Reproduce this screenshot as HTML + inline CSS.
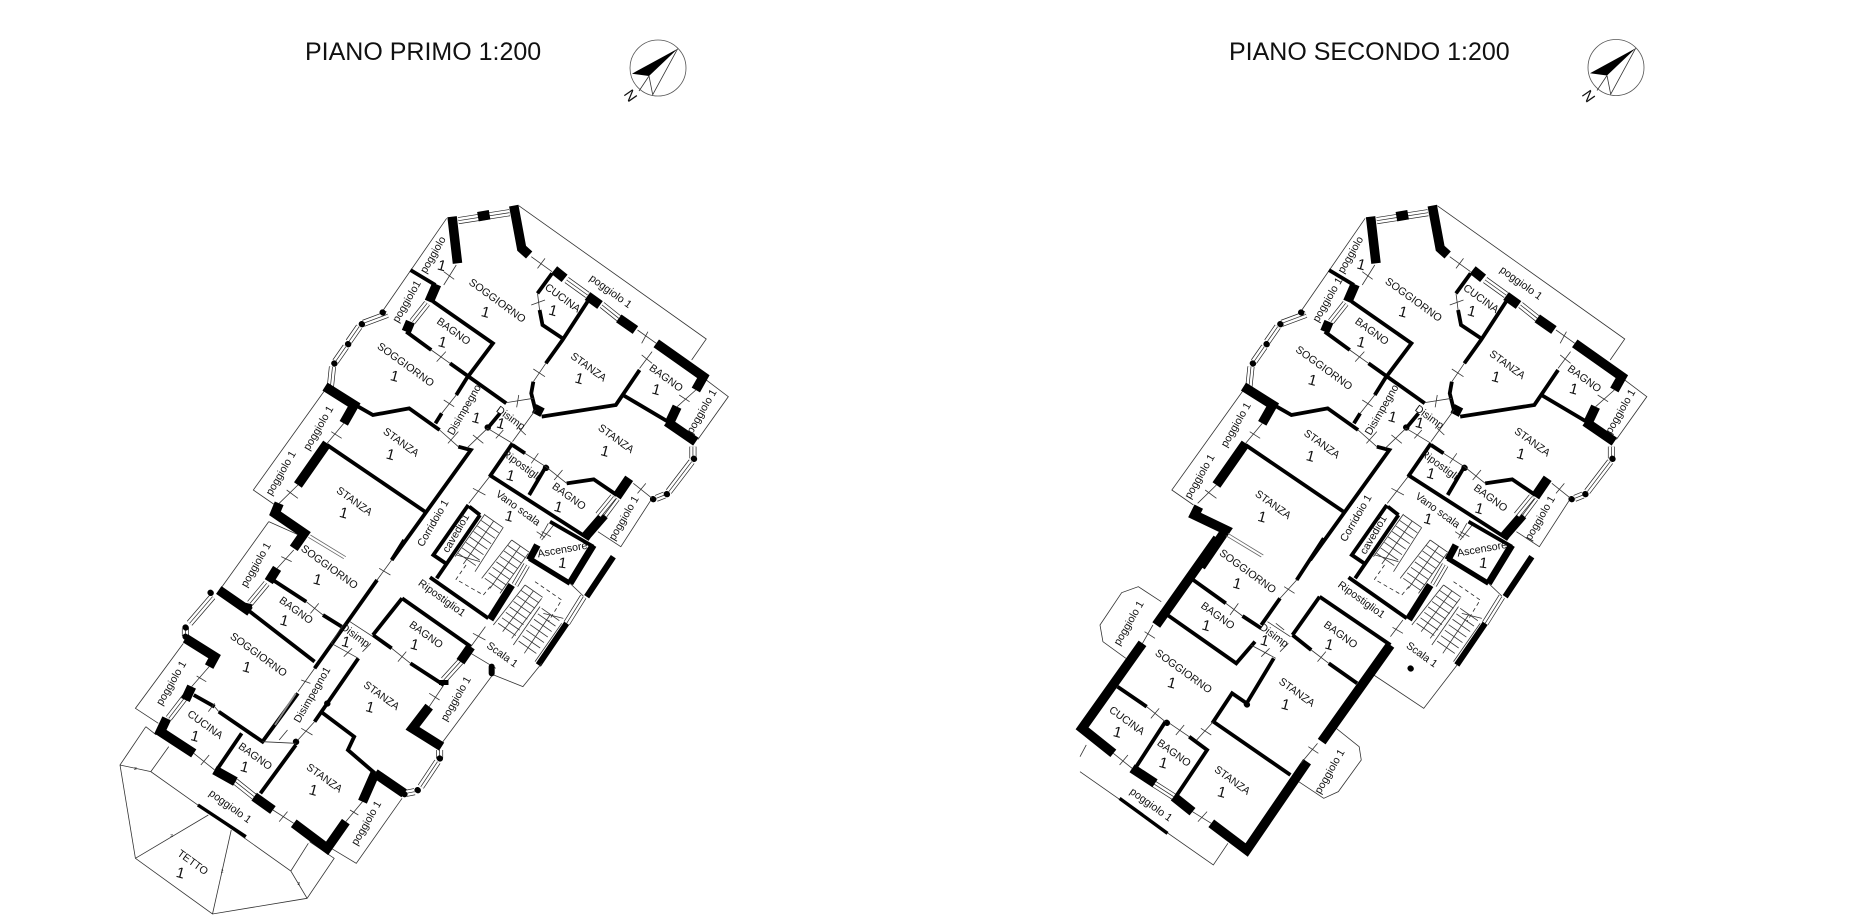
<!DOCTYPE html>
<html><head><meta charset="utf-8"><style>
html,body{margin:0;padding:0;background:#fff}
svg{display:block}
path{vector-effect:non-scaling-stroke;fill:none;stroke:#000;stroke-linejoin:miter}
.t{stroke:#333;stroke-width:.8}
.m{stroke-width:3.8}
.x{stroke-width:6}
.k{stroke-width:9.5}
.b{stroke-width:6;stroke-linecap:round}
.g{stroke:#666;stroke-width:.8}
.g2{stroke:#888;stroke-width:1.8}
.wi{stroke:inherit;stroke-width:inherit}
.wa{stroke-width:7;stroke:#222}
.wb{stroke-width:5.6;stroke:#fff}
.wc{stroke-width:.7;stroke:#222}
.st{stroke:#333;stroke-width:.8}
.d{stroke:#222;stroke-width:.8;stroke-dasharray:4 3}
text{font-family:"Liberation Sans",sans-serif;font-size:10.7px;text-anchor:middle;dominant-baseline:central;fill:#111}
.n{font-size:15px}
.h{font-size:25px;text-anchor:start;dominant-baseline:auto}
</style></head><body>
<svg width="1857" height="924" viewBox="0 0 1857 924" xmlns="http://www.w3.org/2000/svg">
<rect width="1857" height="924" fill="#fff"/>
<text class="h" x="305" y="60">PIANO PRIMO 1:200</text>
<text class="h" x="1229" y="60">PIANO SECONDO 1:200</text>
<defs>
<g id="comp">
<circle r="28" fill="none" stroke="#555" stroke-width=".8"/>
<polygon points="19.7,-19.3 -26,5.7 -9,8" fill="#000"/>
<path class="t" d="M19.7,-19.3L-5.3,26.7L-9,8L-5.3,26.7M-9,8L-19,23"/>
</g>
<path id="winTop" class="wi" d="M860,92L983,68M785,340L750,395M690,373L632,400M622,410L597,455M590,470L565,515M558,530L553,590M1120,270L1170,315M1205,345L1245,385M1423,770L1423,805M1420,815L1365,905M1355,915L1335,925M1240,925L1210,975"/>
<path id="winA" class="wi" d="M400,130L360,190M270,170L215,250M205,265L205,288M205,470L165,535M325,725L370,770M865,365L825,420M815,630L815,655M810,665L770,740M755,755L735,760"/>
<path id="winB" class="wi" d="M175,730L225,770"/>
<path id="winC" class="wi" d="M290,225L255,285M460,320L410,400M550,20L505,75"/>

<g id="top" transform="translate(100,190) scale(.41667,.33333)">
<path class="t" d="M832,85L680,360M1005,47L1455,447L1420,510M1455,570L1508,620L1435,748M540,600L368,900L420,945M1325,925L1250,1070L1195,1025"/>
<use href="#winTop" class="wa"/><use href="#winTop" class="wb"/><use href="#winTop" class="wc"/>
<path class="k" d="M845,80L858,220M993,47L1012,175L1030,195M808,283L790,335M745,395L735,425M1090,240L1115,265M1170,318L1200,345M1245,385L1285,420M1335,460L1448,560L1430,600M1385,650L1368,695M1360,695L1430,755M540,590L610,645L585,700M545,760L475,885M1270,865L1240,920M1210,975L1165,1040M907,80L935,74M1042,655L1062,668"/>
<path class="m" d="M745,240L805,285M800,335L943,460L880,565L855,615M735,425L795,480M840,520L975,640M1085,250L1050,310M1055,360L1062,405L1110,445M1170,335L1110,450L1070,520M1040,575L1035,610L1045,660M1060,680L1238,645L1295,540M1255,615L1370,700M545,765L780,965M620,650L655,675L742,655L815,720M820,670L805,700M860,770L890,780L700,1110M960,670L930,715M990,760L935,860M990,765L1020,790M1070,830L1030,915M935,855L1175,1048M1120,880L1185,868L1240,915"/>
<path class="b" d="M678,367L679,368M628,402L629,403M595,462L596,463M562,520L563,521M1425,806L1426,807M1360,912L1361,913M1327,927L1328,928M930,712L931,713M1070,833L1071,834"/>
<path class="t" d="M855,225L825,285M825,245L850,268M1035,200L1085,245M1050,235L1068,205M1050,310L1055,360M1035,345L1068,330M1070,520L1040,575M1040,537L1068,560M795,480L840,520M808,515L830,485M855,615L820,670M825,630L850,650M1290,420L1335,460M1300,460L1315,425M1325,485L1295,535M1300,495L1325,520M1430,600L1385,650M1390,615L1415,635M975,638L1040,625M1005,615L1000,652M815,720L860,770M835,760L860,725M880,775L930,715M895,735L920,760M930,715L990,760M950,745L968,720M1045,660L990,755M1005,715L1022,735M1020,790L1070,830M1035,820L1052,790M1070,830L1120,880M1090,870L1110,840M1280,880L1325,925M1290,910L1310,880M585,700L545,760M555,725L580,745M475,885L430,940M448,900L475,925M935,860L885,940M895,895L925,915M1092,1000L1060,1050M1060,1025L1082,1040"/>
</g>

<g id="core" transform="translate(430,490) scale(.33333)">
<path class="st" d="M165,75l53,37m-64.5,-20.6l53,37m-64.5,-20.6l53,37m-64.5,-20.6l53,37m-64.5,-20.6l53,37m-64.5,-20.6l53,37m-64.5,-20.6l53,37m-64.5,-20.6l53,37M245,150l53,37m-64.5,-20.6l53,37m-64.5,-20.6l53,37m-64.5,-20.6l53,37m-64.5,-20.6l53,37m-64.5,-20.6l53,37m-64.5,-20.6l53,37m-64.5,-20.6l53,37M285,285l53,37m-64.5,-20.6l53,37m-64.5,-20.6l53,37m-64.5,-20.6l53,37m-64.5,-20.6l53,37m-64.5,-20.6l53,37m-64.5,-20.6l53,37m-64.5,-20.6l53,37M335,355l53,37m-64.5,-20.6l53,37m-64.5,-20.6l53,37m-64.5,-20.6l53,37m-64.5,-20.6l53,37m-64.5,-20.6l53,37m-64.5,-20.6l53,37"/>
<path class="t" d="M165,72L75,200M220,112L135,245M245,150L155,265M295,190L210,310M285,285L190,405M335,325L245,445M330,350L250,465M395,400L315,515M191,93L100,222M271,168L180,295M310,303L218,425M360,375L283,490M80,195L150,215M340,370L400,385"/>
<path class="d" d="M108,225L78,268L160,315L185,285M315,275L395,330L355,395"/>
<use href="#winC" class="wa"/><use href="#winC" class="wb"/><use href="#winC" class="wc"/>
<path class="m" d="M115,45L10,195L50,222M118,50L150,75M150,75L20,265M0,262L175,385M360,95L490,170"/>
<path style="stroke-width:7.5" d="M245,285L180,388"/>
<path style="stroke-width:7" d="M322,165L298,210M490,165L420,280"/>
<path style="stroke-width:5" d="M298,205L420,280"/>
<path style="stroke-width:6" d="M550,200L470,320M410,400L325,525"/>
<path class="t" d="M420,280L460,318M355,100L330,145M320,125L345,142"/>
</g>
</defs>

<use href="#comp" transform="translate(658,68)"/>
<use href="#comp" transform="translate(1616,67.5)"/>
<text transform="translate(630,96) rotate(55)" style="font-size:15px">N</text>
<text transform="translate(1588,96.5) rotate(55)" style="font-size:15px">N</text>

<!-- PLAN 1 -->
<use href="#top"/>
<use href="#core"/>
<g transform="translate(100,190) scale(.41667,.33333)">
<path class="t" d="M405,995L495,1045"/>
<path class="k" d="M430,940L420,970L490,1030L465,1075"/>
<path class="g" d="M505,1035L590,1100M500,1042L585,1106"/>
<g>
<text transform="translate(800,195) scale(2.4,3) rotate(-60)">poggiolo</text><text class="n" transform="translate(820,228) scale(2.4,3) rotate(15)">1</text>
<text transform="translate(737,335) scale(2.4,3) rotate(-60)">poggiolo1</text>
<text transform="translate(953,333) scale(2.4,3) rotate(36)">SOGGIORNO</text><text class="n" transform="translate(925,368) scale(2.4,3) rotate(15)">1</text>
<text transform="translate(1110,325) scale(2.4,3) rotate(36)">CUCINA</text><text class="n" transform="translate(1087,363) scale(2.4,3) rotate(15)">1</text>
<text transform="translate(1225,305) scale(2.4,3) rotate(36)">poggiolo 1</text>
<text transform="translate(848,425) scale(2.4,3) rotate(36)">BAGNO</text><text class="n" transform="translate(822,458) scale(2.4,3) rotate(15)">1</text>
<text transform="translate(1172,532) scale(2.4,3) rotate(36)">STANZA</text><text class="n" transform="translate(1150,567) scale(2.4,3) rotate(15)">1</text>
<text transform="translate(1358,565) scale(2.4,3) rotate(36)">BAGNO</text><text class="n" transform="translate(1335,600) scale(2.4,3) rotate(15)">1</text>
<text transform="translate(1445,665) scale(2.4,3) rotate(-60)">poggiolo 1</text>
<text transform="translate(733,525) scale(2.4,3) rotate(36)">SOGGIORNO</text><text class="n" transform="translate(707,560) scale(2.4,3) rotate(15)">1</text>
<text transform="translate(525,715) scale(2.4,3) rotate(-60)">poggiolo 1</text>
<text transform="translate(875,660) scale(2.4,3) rotate(-60)">Disimpegno</text><text class="n" transform="translate(903,685) scale(2.4,3) rotate(15)">1</text>
<text transform="translate(985,685) scale(2.4,3) rotate(36)">Disimp</text><text class="n" transform="translate(962,702) scale(2.4,3) rotate(15)">1</text>
<text transform="translate(722,758) scale(2.4,3) rotate(36)">STANZA</text><text class="n" transform="translate(697,795) scale(2.4,3) rotate(15)">1</text>
<text transform="translate(1238,747) scale(2.4,3) rotate(36)">STANZA</text><text class="n" transform="translate(1212,785) scale(2.4,3) rotate(15)">1</text>
<text transform="translate(1010,825) scale(2.4,3) rotate(36)">Ripostigli</text><text class="n" transform="translate(985,858) scale(2.4,3) rotate(15)">1</text>
<text transform="translate(1125,920) scale(2.4,3) rotate(36)">BAGNO</text><text class="n" transform="translate(1100,952) scale(2.4,3) rotate(15)">1</text>
<text transform="translate(435,850) scale(2.4,3) rotate(-60)">poggiolo 1</text>
<text transform="translate(610,935) scale(2.4,3) rotate(36)">STANZA</text><text class="n" transform="translate(585,970) scale(2.4,3) rotate(15)">1</text>
<text transform="translate(1258,985) scale(2.4,3) rotate(-60)">poggiolo 1</text>
<text transform="translate(1003,955) scale(2.4,3) rotate(36)">Vano scala</text><text class="n" transform="translate(982,980) scale(2.4,3) rotate(15)">1</text>
<text transform="translate(800,1000) scale(2.4,3) rotate(-60)">Corridoio 1</text>
<text transform="translate(855,1030) scale(2.4,3) rotate(-60)">cavedio1</text>
<text transform="translate(1110,1080) scale(2.4,3) rotate(-10)">Ascensore</text>
</g>
</g>
<g transform="translate(100,540) scale(.41667,.33333)">
<path class="t" d="M293,140L405,-55M200,310L85,505L140,550M110,560L48,675L85,955L270,1122L497,1075L562,955L503,905M110,560L135,585M48,675L122,695L458,993L497,1075M122,695L165,620M458,993L500,910M85,955L260,825M270,1122L315,870M555,925L615,970L725,775M820,610L945,400M945,405L1015,440L1060,370M890,340L950,385"/>
<use href="#winA" class="wa"/><use href="#winA" class="wb"/><use href="#winA" class="wc"/>
<path class="k" d="M425,85L405,125M285,150L360,215M355,190L350,215M205,295L275,350L262,380M220,440L205,480M160,535L145,575L225,640M275,690L325,725M370,770L415,810M465,850L545,925L590,845M660,700L730,760M660,700L630,785M790,500L750,565L820,620M890,320L865,365M825,420L825,435"/>
<path class="m" d="M415,120L495,185M535,225L580,260M730,0L700,60M665,120L515,385M360,215L515,365M225,465L275,500M285,515L390,605L475,460M340,580L280,690M385,760L470,615M530,515L610,590L595,630L660,700M620,355L515,545M725,175L655,285M725,175L890,320M655,285L700,325M745,370L825,435"/>
<path class="g2" d="M420,555L470,460"/>
<path class="b" d="M545,490L546,491M940,380L940,400M265,158L266,159M205,262L206,263M205,290L206,291M815,655L816,656M762,750L763,751M730,762L731,763M470,605L471,606"/>
<path style="stroke-width:3.4" d="M235,795L350,890"/>
<path class="t" d="M465,30L425,85M435,50L460,65M495,185L535,225M505,220L525,190M700,60L665,120M670,85L697,105M262,380L220,440M232,408L255,425M275,500L285,515M260,515L275,490M225,640L275,690M242,675L262,645M415,810L465,850M430,845L450,815M590,845L630,785M600,810L620,825M700,325L745,370M715,365L735,335M790,500L825,435M790,460L815,480M600,245L655,290M555,310L620,355M585,350L605,325M630,335L650,310M580,260L555,310M515,385L475,455M483,420L505,430M475,600L515,545M483,565L510,585M390,605L470,610M430,600L450,570M925,260L890,320M895,280L925,300"/>
<text transform="translate(375,75) scale(2.4,3) rotate(-60)">poggiolo 1</text>
<text transform="translate(550,82) scale(2.4,3) rotate(36)">SOGGIORNO</text><text class="n" transform="translate(522,120) scale(2.4,3) rotate(15)">1</text>
<text transform="translate(470,212) scale(2.4,3) rotate(36)">BAGNO</text><text class="n" transform="translate(442,243) scale(2.4,3) rotate(15)">1</text>
<text transform="translate(820,175) scale(2.4,3) rotate(36)">Ripostiglio1</text>
<text transform="translate(380,345) scale(2.4,3) rotate(36)">SOGGIORNO</text><text class="n" transform="translate(352,383) scale(2.4,3) rotate(15)">1</text>
<text transform="translate(612,287) scale(2.4,3) rotate(36)">Disimp</text><text class="n" transform="translate(590,307) scale(2.4,3) rotate(15)">1</text>
<text transform="translate(782,285) scale(2.4,3) rotate(36)">BAGNO</text><text class="n" transform="translate(755,315) scale(2.4,3) rotate(15)">1</text>
<text transform="translate(965,345) scale(2.4,3) rotate(36)">Scala 1</text>
<text transform="translate(172,430) scale(2.4,3) rotate(-60)">poggiolo 1</text>
<text transform="translate(510,465) scale(2.4,3) rotate(-60)">Disimpegno1</text>
<text transform="translate(675,468) scale(2.4,3) rotate(36)">STANZA</text><text class="n" transform="translate(648,503) scale(2.4,3) rotate(15)">1</text>
<text transform="translate(855,477) scale(2.4,3) rotate(-60)">poggiolo 1</text>
<text transform="translate(252,555) scale(2.4,3) rotate(36)">CUCINA</text><text class="n" transform="translate(228,590) scale(2.4,3) rotate(15)">1</text>
<text transform="translate(372,650) scale(2.4,3) rotate(36)">BAGNO</text><text class="n" transform="translate(347,682) scale(2.4,3) rotate(15)">1</text>
<text transform="translate(538,715) scale(2.4,3) rotate(36)">STANZA</text><text class="n" transform="translate(512,752) scale(2.4,3) rotate(15)">1</text>
<text transform="translate(312,800) scale(2.4,3) rotate(36)">poggiolo 1</text>
<text transform="translate(640,850) scale(2.4,3) rotate(-60)">poggiolo 1</text>
<text transform="translate(222,968) scale(2.4,3) rotate(36)">TETTO</text><text class="n" transform="translate(193,1000) scale(2.4,3) rotate(15)">1</text>
<text class="n" transform="translate(1110,70) scale(2.4,3) rotate(8)">1</text>
<text transform="translate(85,687) scale(2.4,3)" style="font-size:5px">2</text>
<text transform="translate(172,888) scale(2.4,3)" style="font-size:5px">2</text>
<text transform="translate(293,995) scale(2.4,3)" style="font-size:5px">2</text>
<text transform="translate(477,1032) scale(2.4,3)" style="font-size:5px">2</text>
</g>

<!-- PLAN 2 -->
<use href="#top" transform="translate(918.5,0)"/>
<use href="#core" transform="translate(918.5,0)"/>
<g transform="translate(1080,190) scale(.41667,.33333)">
<path class="k" d="M285,950L275,975L350,1020L290,1130"/>
<path class="g" d="M355,1030L440,1095M350,1037L435,1101"/>
<text transform="translate(650,195) scale(2.4,3) rotate(-60)">poggiolo</text><text class="n" transform="translate(675,225) scale(2.4,3) rotate(15)">1</text>
<text transform="translate(595,330) scale(2.4,3) rotate(-60)">poggiolo 1</text>
<text transform="translate(800,330) scale(2.4,3) rotate(36)">SOGGIORNO</text><text class="n" transform="translate(775,367) scale(2.4,3) rotate(15)">1</text>
<text transform="translate(962,327) scale(2.4,3) rotate(36)">CUCINA</text><text class="n" transform="translate(940,365) scale(2.4,3) rotate(15)">1</text>
<text transform="translate(1058,280) scale(2.4,3) rotate(36)">poggiolo 1</text>
<text transform="translate(700,425) scale(2.4,3) rotate(36)">BAGNO</text><text class="n" transform="translate(675,458) scale(2.4,3) rotate(15)">1</text>
<text transform="translate(1025,525) scale(2.4,3) rotate(36)">STANZA</text><text class="n" transform="translate(998,562) scale(2.4,3) rotate(15)">1</text>
<text transform="translate(1210,567) scale(2.4,3) rotate(36)">BAGNO</text><text class="n" transform="translate(1185,598) scale(2.4,3) rotate(15)">1</text>
<text transform="translate(1298,665) scale(2.4,3) rotate(-60)">poggiolo 1</text>
<text transform="translate(585,535) scale(2.4,3) rotate(36)">SOGGIORNO</text><text class="n" transform="translate(558,572) scale(2.4,3) rotate(15)">1</text>
<text transform="translate(375,705) scale(2.4,3) rotate(-60)">poggiolo 1</text>
<text transform="translate(725,660) scale(2.4,3) rotate(-60)">Disimpegno</text><text class="n" transform="translate(750,682) scale(2.4,3) rotate(15)">1</text>
<text transform="translate(838,682) scale(2.4,3) rotate(36)">Disimp</text><text class="n" transform="translate(815,700) scale(2.4,3) rotate(15)">1</text>
<text transform="translate(580,763) scale(2.4,3) rotate(36)">STANZA</text><text class="n" transform="translate(553,800) scale(2.4,3) rotate(15)">1</text>
<text transform="translate(1085,757) scale(2.4,3) rotate(36)">STANZA</text><text class="n" transform="translate(1058,793) scale(2.4,3) rotate(15)">1</text>
<text transform="translate(862,825) scale(2.4,3) rotate(36)">Ripostigli</text><text class="n" transform="translate(842,852) scale(2.4,3) rotate(15)">1</text>
<text transform="translate(985,925) scale(2.4,3) rotate(36)">BAGNO</text><text class="n" transform="translate(958,957) scale(2.4,3) rotate(15)">1</text>
<text transform="translate(288,860) scale(2.4,3) rotate(-60)">poggiolo 1</text>
<text transform="translate(463,945) scale(2.4,3) rotate(36)">STANZA</text><text class="n" transform="translate(437,982) scale(2.4,3) rotate(15)">1</text>
<text transform="translate(1105,985) scale(2.4,3) rotate(-60)">poggiolo 1</text>
<text transform="translate(858,962) scale(2.4,3) rotate(36)">Vano scala</text><text class="n" transform="translate(835,988) scale(2.4,3) rotate(15)">1</text>
<text transform="translate(663,985) scale(2.4,3) rotate(-60)">Corridoio 1</text>
<text transform="translate(705,1035) scale(2.4,3) rotate(-60)">cavedio1</text>
<text transform="translate(965,1078) scale(2.4,3) rotate(-10)">Ascensore</text>
</g>
<g transform="translate(1080,540) scale(.41667,.33333)">
<path class="t" d="M15,615L0,650M0,695L320,975L355,910M705,405L825,505L905,375M195,185L140,140L100,158L48,255L55,305L110,355M610,560L670,620L675,660L620,755L585,775L525,725"/>
<use href="#winB" class="wa"/><use href="#winB" class="wb"/><use href="#winB" class="wc"/>
<path class="k" d="M330,-5L183,255M150,310L5,565L80,640M125,685L180,730M225,770L270,815M315,850L400,930L545,665M580,605L745,315"/>
<path class="m" d="M272,120L350,190M390,228L435,265M210,225L375,370L420,305M465,355L400,490L365,460L320,545L505,705M90,440L160,500M205,545L135,680M262,590L305,630L230,770M575,170L510,285M575,170L745,315M510,285L555,330M597,370L665,430M480,175L435,255M585,-5L520,120"/>
<path style="stroke-width:3.4" d="M95,775L210,880"/>
<path class="b" d="M400,493L401,494M793,385L794,386M208,548L209,549"/>
<path class="t" d="M175,255L150,310M155,275L180,295M350,190L390,228M360,225L380,190M520,120L480,175M490,140L515,160M160,500L205,545M170,535L190,505M215,550L262,590M230,585L250,555M280,600L320,545M290,565L315,585M80,640L125,685M95,675L115,645M270,815L315,850M283,845L305,815M555,330L597,370M570,365L590,335M570,610L530,670M548,620L572,640M450,245L505,290M410,315L470,355M435,350L455,325M480,335L500,310M470,250L490,270M775,240L745,290M750,262L775,280"/>
<text transform="translate(402,95) scale(2.4,3) rotate(36)">SOGGIORNO</text><text class="n" transform="translate(377,132) scale(2.4,3) rotate(15)">1</text>
<text transform="translate(330,228) scale(2.4,3) rotate(36)">BAGNO</text><text class="n" transform="translate(303,258) scale(2.4,3) rotate(15)">1</text>
<text transform="translate(118,250) scale(2.4,3) rotate(-60)">poggiolo 1</text>
<text transform="translate(465,287) scale(2.4,3) rotate(36)">Disimp</text><text class="n" transform="translate(443,303) scale(2.4,3) rotate(15)">1</text>
<text transform="translate(625,285) scale(2.4,3) rotate(36)">BAGNO</text><text class="n" transform="translate(598,315) scale(2.4,3) rotate(15)">1</text>
<text transform="translate(675,180) scale(2.4,3) rotate(36)">Ripostiglio1</text>
<text transform="translate(820,345) scale(2.4,3) rotate(36)">Scala 1</text>
<text transform="translate(248,395) scale(2.4,3) rotate(36)">SOGGIORNO</text><text class="n" transform="translate(220,430) scale(2.4,3) rotate(15)">1</text>
<text transform="translate(520,458) scale(2.4,3) rotate(36)">STANZA</text><text class="n" transform="translate(493,495) scale(2.4,3) rotate(15)">1</text>
<text transform="translate(112,543) scale(2.4,3) rotate(36)">CUCINA</text><text class="n" transform="translate(90,578) scale(2.4,3) rotate(15)">1</text>
<text transform="translate(225,640) scale(2.4,3) rotate(36)">BAGNO</text><text class="n" transform="translate(200,670) scale(2.4,3) rotate(15)">1</text>
<text transform="translate(365,722) scale(2.4,3) rotate(36)">STANZA</text><text class="n" transform="translate(340,758) scale(2.4,3) rotate(15)">1</text>
<text transform="translate(170,795) scale(2.4,3) rotate(36)">poggiolo 1</text>
<text transform="translate(600,695) scale(2.4,3) rotate(-60)">poggiolo 1</text>
<text class="n" transform="translate(968,70) scale(2.4,3) rotate(8)">1</text>
</g>
</svg>
</body></html>
